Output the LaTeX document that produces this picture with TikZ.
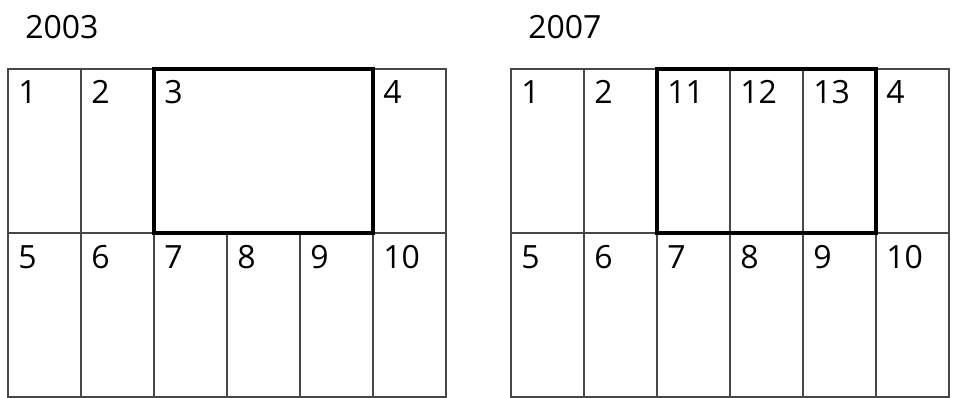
\documentclass[tikz,border=0pt]{standalone}
\usepackage{fontspec}
\setmainfont{Open Sans}
\usetikzlibrary{positioning}
\tikzset{
  cell/.style={draw=black!72,line width=1.1pt},
  merged/.style={draw=black,line width=2.6pt},
  numlabel/.style={anchor=base west,inner sep=0pt,font=\fontsize{24}{24}\selectfont},
  yearlabel/.style={anchor=base west,inner sep=0pt,font=\fontsize{24}{24}\selectfont}
}

\begin{document}
\begin{tikzpicture}[x=0.75pt,y=-0.75pt]
  \useasboundingbox (0,0) rectangle (955,398);
  % 2003 layout
  \node[yearlabel] (year2003) at (25,39) {2003};
  \foreach \c/\n in {0/5,1/6,2/7,3/8,4/9,5/10} {
    \draw[cell] ({8+73*\c},233) rectangle ++(73,164);
    \node[numlabel] (old\n) at ({8+73*\c+10},269) {\n};
  }
  \foreach \c/\n in {0/1,1/2,5/4} {
    \draw[cell] ({8+73*\c},69) rectangle ++(73,164);
    \node[numlabel] (old\n) at ({8+73*\c+10},104) {\n};
  }
  \draw[merged] (154,69) rectangle (373,233);
  \node[numlabel] (old3) at (164,104) {3};
  % 2007 layout
  \node[yearlabel] (year2007) at (528,39) {2007};
  \foreach \c/\n in {0/5,1/6,2/7,3/8,4/9,5/10} {
    \draw[cell] ({511+73*\c},233) rectangle ++(73,164);
    \node[numlabel] (new\n) at ({511+73*\c+10},269) {\n};
  }
  \foreach \c/\n in {0/1,1/2,2/11,3/12,4/13,5/4} {
    \draw[cell] ({511+73*\c},69) rectangle ++(73,164);
    \node[numlabel] (new\n) at ({511+73*\c+10},104) {\n};
  }
  \draw[merged] (657,69) rectangle (876,233);
\end{tikzpicture}
\end{document}
